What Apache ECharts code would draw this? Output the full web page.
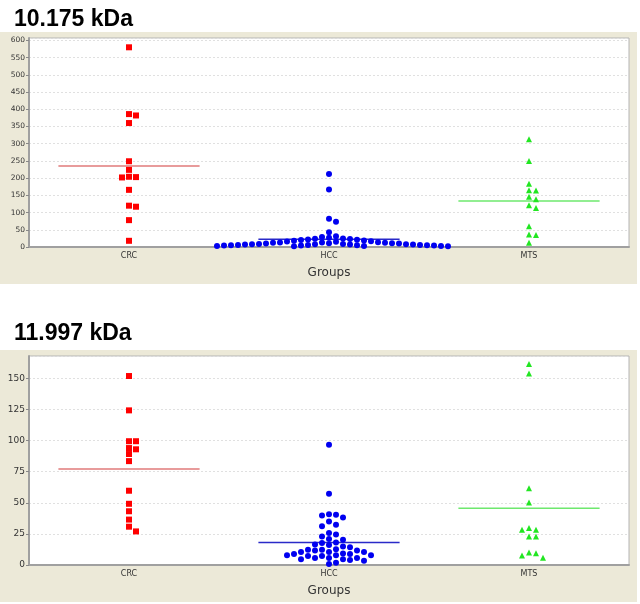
<!DOCTYPE html>
<html>
<head>
<meta charset="utf-8">
<script src="https://cdn.jsdelivr.net/npm/echarts@6/dist/echarts.min.js"></script>
<style>
  html, body { margin: 0; padding: 0; background: #fff; }
  #chart { width: 640px; height: 604px; }
</style>
</head>
<body>
<div id="chart"></div>
<script>
// groups and peak titles
const groups = ['CRC', 'HCC', 'MTS']
const titles = ['10.175 kDa', '11.997 kDa']

// 10.175 kDa intensities
const crc10 = [580, 386, 382, 360, 249, 224, 204, 203, 202, 166, 120, 117, 78, 18]
const hcc10 = [212, 167, 82, 73, 43, 31, 29, 27, 25, 24, 23, 22, 21, 20, 19, 18, 17, 16,
  15, 14, 13, 13, 12, 12, 11, 11, 10, 10, 9, 9, 8, 8, 8, 7, 7, 7, 6, 6, 6, 5, 5, 5, 4, 4,
  4, 3, 3, 3, 2, 2]
const mts10 = [313, 250, 184, 165, 164, 146, 139, 121, 113, 60, 36, 35, 12]

// 11.997 kDa intensities
const crc12 = [151.9, 124.3, 99.5, 99.5, 94, 93, 89.2, 83.5, 59.7, 49.2, 43.2, 36.5, 30.8, 27.0]
const hcc12 = [96.7, 57.3, 40.8, 40.3, 39.7, 38.1, 34.9, 32.4, 31.1, 25.7, 24.6, 23.0, 20.8,
  20.3, 18.1, 17.6, 16.5, 16.0, 14.9, 14.3, 12.7, 12.2, 12.2, 11.6, 11.6, 10.5, 10.5, 10.5,
  9.2, 8.9, 8.9, 7.8, 7.8, 7.8, 7.3, 7.3, 5.7, 5.7, 5.7, 4.6, 4.6, 4.1, 3.5, 1.9, 0.8]
const mts12 = [161.6, 154, 61.6, 50.3, 29.7, 28.4, 28.4, 23, 23, 10, 9.5, 7.6, 5.9]

// y axis ranges / tick steps
const yMax = [607, 168]
const yStep = [50, 25]

const GRID_LEFT = 29
const GRID_W = 600
const GRID_H = 209
const GRID_TOP = [38, 356]
const STEP_PX = 7     // horizontal spacing between dots
const MIN_DY = 5.5    // dots in one column need this vertical gap (px)
const HALF_LINE = 0.353

const COLORS = ['#ff0000', '#0000f0', '#22e622']
const LINE_COLORS = ['#e07a7a', '#2a2ac8', '#6ee86e']
const SYMBOLS = ['rect', 'circle', 'triangle']

// simple column swarm: biggest values first, nearest free column
function swarm(values, max) {
  const pxPerUnit = GRID_H / max
  const order = values.map((v, i) => i).sort((a, b) => values[b] - values[a])
  const cols = {}
  const slot = new Array(values.length)
  order.forEach(i => {
    const y = values[i] * pxPerUnit
    for (let k = 0; slot[i] === undefined; k++) {
      const tries = k === 0 ? [0] : [k, -k]
      for (const s of tries) {
        const col = cols[s] || []
        if (col.every(cy => Math.abs(cy - y) >= MIN_DY)) {
          cols[s] = col.concat(y)
          slot[i] = s
          break
        }
      }
    }
  })
  const unitPx = GRID_W / groups.length
  return slot.map(s => s * STEP_PX / unitPx)
}

const mean = arr => arr.reduce((a, b) => a + b, 0) / arr.length

const panels = [[crc10, hcc10, mts10], [crc12, hcc12, mts12]]

const grid = [], xAxis = [], yAxis = [], series = [], title = [], graphic = []

panels.forEach((sets, p) => {
  title.push({
    text: titles[p], left: 9, top: p === 0 ? 3 : 317,
    textStyle: { fontSize: 23, fontWeight: 'bold', color: '#000', fontFamily: 'Liberation Sans, Arial' },
  })
  graphic.push({
    type: 'rect', z: -10,
    shape: { x: 0, y: p === 0 ? 32 : 350, width: 637, height: 252 },
    style: { fill: '#ece9d8' },
  })
  grid.push({
    left: GRID_LEFT, top: GRID_TOP[p], width: GRID_W, height: GRID_H,
    show: true, backgroundColor: '#fff', borderColor: '#b4b4b4', borderWidth: 1,
  })
  // visible category axis for the labels
  xAxis.push({
    type: 'category', gridIndex: p, data: groups,
    axisLine: { onZero: false, lineStyle: { color: '#a0a0a0', width: 2 } },
    axisTick: { show: false },
    axisLabel: { fontSize: 8, color: '#333', margin: 5, fontFamily: 'DejaVu Sans' },
    name: 'Groups', nameLocation: 'middle', nameGap: 20,
    nameTextStyle: { fontSize: 12, color: '#333', fontFamily: 'DejaVu Sans' },
  })
  // hidden value axis that places the dots
  xAxis.push({ type: 'value', gridIndex: p, min: -0.5, max: 2.5, show: false })
  yAxis.push({
    type: 'value', gridIndex: p, min: 0, max: yMax[p], interval: yStep[p],
    axisLine: { show: true, onZero: false, lineStyle: { color: '#a0a0a0', width: 2 } },
    axisTick: { show: true, length: 3, lineStyle: { color: '#888' } },
    axisLabel: { fontSize: p === 0 ? 7.5 : 9, color: '#333', margin: 4, showMaxLabel: false, fontFamily: 'DejaVu Sans' },
    splitLine: { lineStyle: { color: '#e0e0e0', type: [2, 2] } },
  })

  sets.forEach((vals, g) => {
    const offs = swarm(vals, yMax[p])
    const m = mean(vals)
    series.push({
      type: 'line', xAxisIndex: p * 2 + 1, yAxisIndex: p, z: 2,
      data: [[g - HALF_LINE, m], [g + HALF_LINE, m]],
      symbol: 'none', silent: true,
      lineStyle: { color: LINE_COLORS[g], width: 1.5 },
    })
    series.push({
      type: 'scatter', xAxisIndex: p * 2 + 1, yAxisIndex: p, z: 3,
      data: vals.map((v, i) => [g + offs[i], v]),
      symbol: SYMBOLS[g], symbolSize: 6,
      itemStyle: { color: COLORS[g], opacity: 1 },
    })
  })
})

const chart = echarts.init(document.getElementById('chart'))
chart.setOption({
  animation: false,
  backgroundColor: '#fff',
  title, graphic, grid, xAxis, yAxis, series,
})
</script>
</body>
</html>
